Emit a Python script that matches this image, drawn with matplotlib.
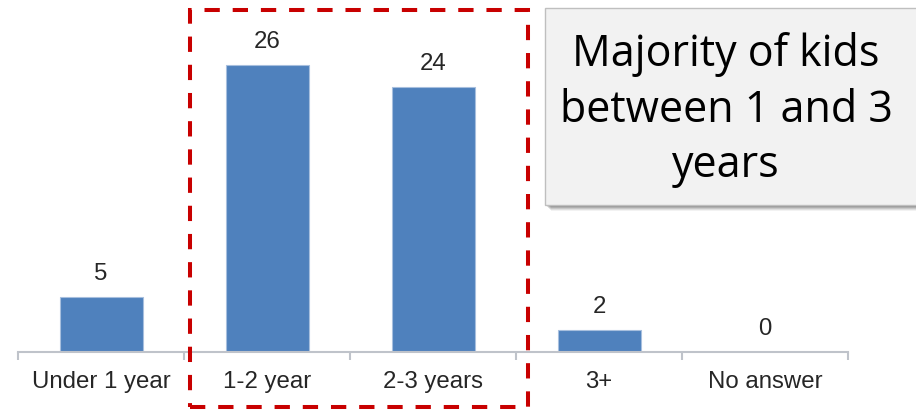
import matplotlib
matplotlib.use("Agg")
import matplotlib.pyplot as plt
from matplotlib.patches import Rectangle

categories = ["Under 1 year", "1-2 year", "2-3 years", "3+", "No answer"]
values = [5, 26, 24, 2, 0]
note_text = "Majority of kids\nbetween 1 and 3\nyears"

W, H = 916, 411
fig = plt.figure(figsize=(W / 100, H / 100), dpi=100)
fig.patch.set_facecolor("white")

# axes: x from 18 to 848 px, baseline at y=352 px from top
ax_left, ax_right = 18, 848
base_y = 352
px_per_unit = 11.04
top_val = base_y / px_per_unit
ax = fig.add_axes([ax_left / W, (H - base_y) / H, (ax_right - ax_left) / W, base_y / H])
ax.set_xlim(-0.5, len(categories) - 0.5)
ax.set_ylim(0, top_val)

x = list(range(len(categories)))
ax.bar(x, values, width=0.5, color="#4F81BD", edgecolor="#A7BFDE", linewidth=0.8, zorder=2)

for xi, v in zip(x, values):
    ax.annotate(str(v), (xi, v), xytext=(0, 12), textcoords="offset pixels",
                ha="center", va="bottom", fontsize=17.3, family="Liberation Sans", color="#262626")

for s in ["top", "right", "left"]:
    ax.spines[s].set_visible(False)
ax.spines["bottom"].set_color("#BFC3CA")
ax.spines["bottom"].set_linewidth(1.5)
ax.set_yticks([])
ax.set_xticks(x)
ax.set_xticklabels(categories, fontsize=17.3, family="Liberation Sans", color="#262626")
ax.tick_params(axis="x", which="major", length=0, pad=14)
ax.set_xticks([i - 0.5 for i in range(len(categories) + 1)], minor=True)
ax.tick_params(axis="x", which="minor", length=6, width=1.5, color="#BFC3CA", direction="out")

# red dashed highlight box (pixels)
rx0, ry0, rx1, ry1 = 190, 10, 528, 407
rect = Rectangle((rx0 / W, 1 - ry1 / H), (rx1 - rx0) / W, (ry1 - ry0) / H,
                 transform=fig.transFigure, fill=False, edgecolor="#C80000",
                 linewidth=2.9, linestyle=(0, (3.8, 3.2)), zorder=5)
rect.set_capstyle("butt")
fig.add_artist(rect)

# note box with shadow
bx0, by0, bx1, by1 = 545, 8, 925, 205
for off, alpha in [(6, 0.05), (5, 0.08), (4, 0.10), (3, 0.12), (2, 0.12)]:
    sh = Rectangle(((bx0 + off) / W, 1 - (by1 + off) / H), (bx1 - bx0) / W, (by1 - by0) / H,
                   transform=fig.transFigure, facecolor="#000000", alpha=alpha, edgecolor="none", zorder=6)
    fig.add_artist(sh)
box = Rectangle((bx0 / W, 1 - by1 / H), (bx1 - bx0) / W, (by1 - by0) / H,
                transform=fig.transFigure, facecolor="#F2F2F2", edgecolor="#BFBFBF",
                linewidth=1, zorder=7)
fig.add_artist(box)
fig.text(726 / W, 1 - 110 / H, note_text, ha="center", va="center", fontsize=31,
         family="Open Sans", color="#000000", linespacing=1.34, zorder=8)

fig.savefig("out.png", dpi=100)
